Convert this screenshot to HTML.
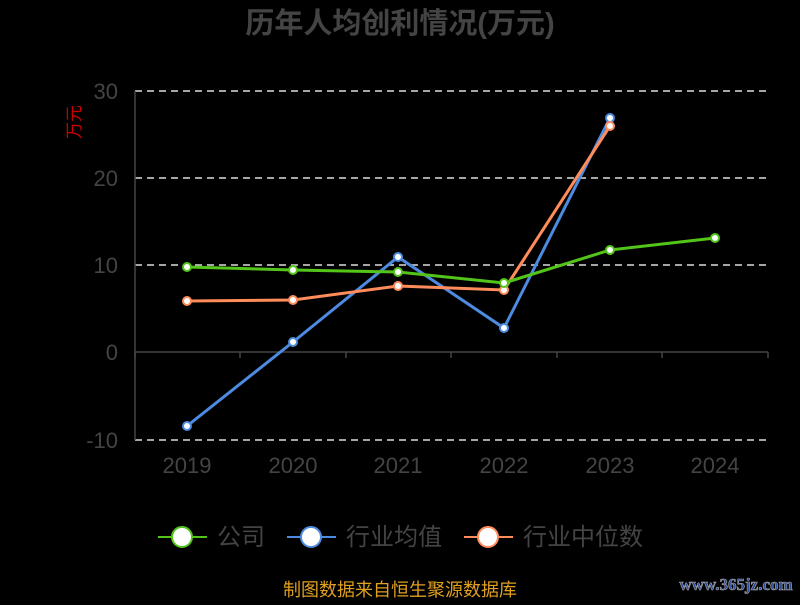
<!DOCTYPE html><html><head><meta charset="utf-8"><style>body{margin:0;background:#000;width:800px;height:600px;overflow:hidden}</style></head><body>
<svg width="800" height="600" xmlns="http://www.w3.org/2000/svg" font-family="Liberation Sans, Noto Sans CJK SC, sans-serif">
<rect width="800" height="600" fill="#000"/>
<text x="400" y="33" text-anchor="middle" font-size="29" font-weight="bold" fill="#444">历年人均创利情况(万元)</text>
<text x="74" y="122" font-size="17" fill="#c00" transform="rotate(-90 74 122)" text-anchor="middle" dy="6">万元</text>
<g stroke="#ddd" stroke-width="1.5" stroke-dasharray="7,5">
<line x1="135" y1="91" x2="768" y2="91"/><line x1="135" y1="178" x2="768" y2="178"/><line x1="135" y1="265" x2="768" y2="265"/><line x1="135" y1="440" x2="768" y2="440"/></g>
<line x1="135" y1="91" x2="135" y2="440" stroke="#444" stroke-width="1.5"/>
<line x1="135" y1="352" x2="768" y2="352" stroke="#444" stroke-width="1.5"/>
<g stroke="#444" stroke-width="1.5"><line x1="135" y1="352" x2="135" y2="358"/><line x1="240" y1="352" x2="240" y2="358"/><line x1="346" y1="352" x2="346" y2="358"/><line x1="451" y1="352" x2="451" y2="358"/><line x1="557" y1="352" x2="557" y2="358"/><line x1="662" y1="352" x2="662" y2="358"/><line x1="768" y1="352" x2="768" y2="358"/></g>
<g font-size="22" fill="#444" text-anchor="end"><text x="118" y="99">30</text><text x="118" y="186">20</text><text x="118" y="273">10</text><text x="118" y="360">0</text><text x="118" y="448">-10</text></g>
<g font-size="22" fill="#444" text-anchor="middle"><text x="187" y="473">2019</text><text x="293" y="473">2020</text><text x="398" y="473">2021</text><text x="504" y="473">2022</text><text x="610" y="473">2023</text><text x="715" y="473">2024</text></g>
<g fill="#fff" stroke-width="2">
<polyline fill="none" stroke="#4c8be0" stroke-width="3" points="187,426 293,342 398,257 504,328 610,118"/>
<polyline fill="none" stroke="#ff8c5a" stroke-width="3" points="187,301 293,300 398,286 504,290 610,126"/>
<polyline fill="none" stroke="#52c41a" stroke-width="3" points="187,267 293,270 398,272 504,283 610,250 715,238"/>
<g stroke="#4c8be0"><circle cx="187" cy="426" r="4"/><circle cx="293" cy="342" r="4"/><circle cx="398" cy="257" r="4"/><circle cx="504" cy="328" r="4"/><circle cx="610" cy="118" r="4"/></g>
<g stroke="#ff8c5a"><circle cx="187" cy="301" r="4"/><circle cx="293" cy="300" r="4"/><circle cx="398" cy="286" r="4"/><circle cx="504" cy="290" r="4"/><circle cx="610" cy="126" r="4"/></g>
<g stroke="#52c41a"><circle cx="187" cy="267" r="4"/><circle cx="293" cy="270" r="4"/><circle cx="398" cy="272" r="4"/><circle cx="504" cy="283" r="4"/><circle cx="610" cy="250" r="4"/><circle cx="715" cy="238" r="4"/></g>
</g>
<g stroke-width="2" fill="#fff" font-size="24">
<line x1="158" y1="537" x2="207" y2="537" stroke="#52c41a"/><circle cx="182" cy="537" r="10" stroke="#52c41a"/><text x="217" y="545" fill="#444" stroke="none">公司</text>
<line x1="287" y1="537" x2="336" y2="537" stroke="#4c8be0"/><circle cx="311" cy="537" r="10" stroke="#4c8be0"/><text x="346" y="545" fill="#444" stroke="none">行业均值</text>
<line x1="464" y1="537" x2="513" y2="537" stroke="#ff8c5a"/><circle cx="488" cy="537" r="10" stroke="#ff8c5a"/><text x="523" y="545" fill="#444" stroke="none">行业中位数</text>
</g>
<text x="400" y="596" text-anchor="middle" font-size="18" fill="#e0a020">制图数据来自恒生聚源数据库</text>
<text x="736" y="590" text-anchor="middle" font-size="17" font-weight="bold" fill="#2a4a9a" stroke="#aaa" stroke-width="0.6" font-family="Liberation Serif, serif">www.365jz.com</text>
</svg></body></html>
